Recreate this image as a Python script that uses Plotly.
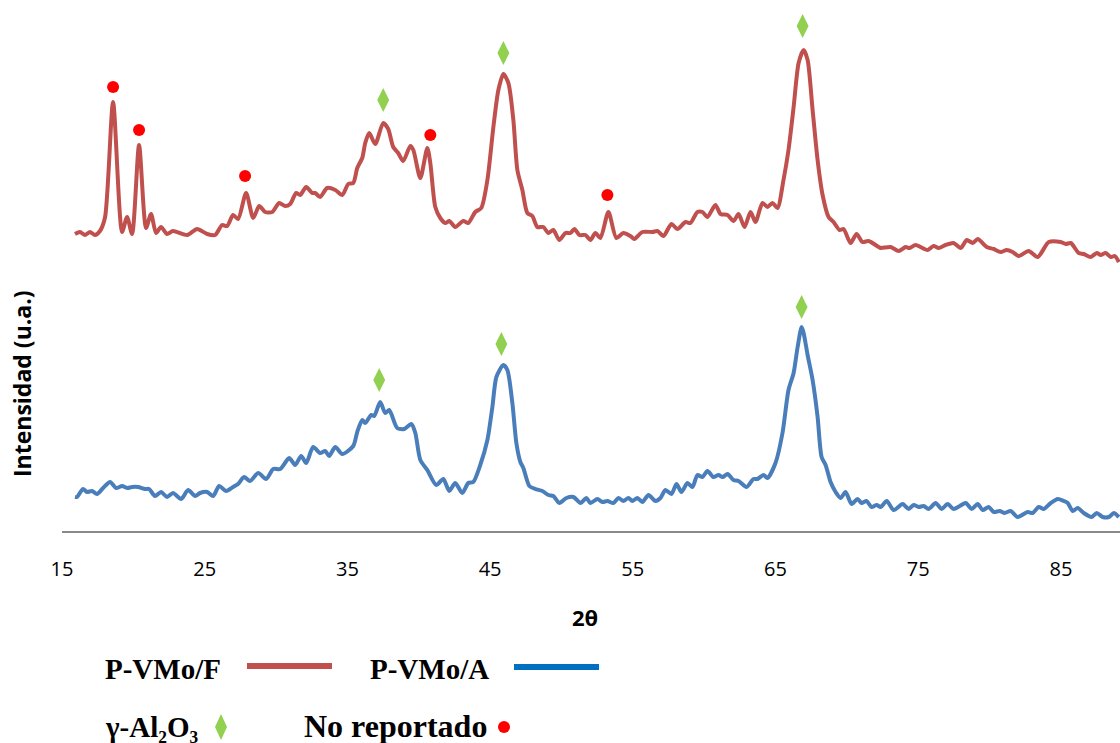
import plotly.graph_objects as go

# ---- Data (2theta in degrees, intensity in arbitrary units) ----
vmo_f_2theta = [15.91, 16.26, 16.61, 16.96, 17.31, 17.66, 18.02, 18.58, 19.21, 19.56, 19.91, 20.40,
                20.89, 21.24, 21.59, 21.94,
                22.36, 22.78, 23.77, 24.47, 25.17, 25.73, 26.22, 26.57, 26.99, 27.34, 27.90, 28.40,
                28.82, 29.24, 29.73, 30.22, 30.64, 30.99, 31.41, 31.69, 32.11, 32.53, 32.74, 33.09,
                33.58, 34.15, 34.64, 35.06, 35.41, 35.69, 36.04, 36.25, 36.53, 36.95, 37.51, 37.86,
                38.21, 38.56, 38.91, 39.41, 39.62, 40.11, 40.60, 40.81, 41.16, 41.51, 41.86, 42.14,
                42.56, 43.12, 43.47, 43.96, 44.38, 44.81, 45.23, 45.58, 45.93, 46.28, 46.63, 46.91,
                47.26, 47.61, 47.96, 48.31, 48.73, 49.08, 49.43, 49.85, 50.28, 50.63, 50.91, 51.26,
                51.68, 52.03, 52.38, 52.73, 53.29, 53.85, 54.34, 54.83, 55.11, 55.67, 56.38, 56.73,
                57.15, 57.71, 58.13, 58.69, 59.04, 59.53, 59.88, 60.23, 60.79, 61.15, 61.64, 62.06,
                62.41, 62.83, 63.25, 63.60, 64.09, 64.44, 64.79, 65.14, 65.56, 65.91, 66.27, 66.62,
                66.97, 67.25, 67.60, 67.95, 68.30, 68.72, 69.07, 69.49, 69.77, 70.26, 70.68, 71.10,
                71.52, 72.23, 72.37, 73.07, 73.63, 74.12, 74.40, 74.82, 75.66, 76.08, 76.43, 76.92,
                77.48, 77.98, 78.40, 78.82, 79.17, 79.80, 80.29, 80.78, 81.20, 81.62, 82.04, 82.74,
                83.38, 84.15, 84.99, 85.34, 85.69, 86.25, 86.60, 87.09, 87.51, 87.79, 88.14, 88.50,
                88.78, 89.06]
vmo_f_int = [297, 299, 296, 299, 296, 300, 314, 429, 299, 314, 297, 386,
             303, 317, 298, 304,
             297, 300, 296, 302, 297, 296, 306, 305, 316, 312, 338, 313,
             325, 319, 319, 328, 325, 327, 338, 336, 344, 338, 338, 334,
             343, 341, 336, 347, 348, 363, 373, 388, 398, 387, 408, 402,
             384, 378, 370, 385, 381, 353, 383, 368, 324, 313, 308, 310,
             304, 310, 308, 319, 323, 351, 404, 441, 457, 448, 411, 361,
             341, 318, 315, 304, 304, 298, 301, 291, 298, 298, 302, 296,
             296, 291, 298, 293, 319, 293, 298, 295, 292, 299, 299, 300,
             295, 307, 302, 309, 308, 319, 319, 314, 326, 317, 316, 310,
             317, 304, 319, 309, 328, 324, 328, 323, 351, 381, 424, 468,
             481, 471, 421, 371, 336, 314, 309, 301, 302, 288, 297, 289,
             290, 284, 283, 284, 280, 284, 283, 286, 281, 285, 283, 286,
             288, 283, 291, 288, 292, 284, 282, 279, 281, 279, 275, 280,
             274, 289, 289, 287, 288, 278, 277, 274, 278, 276, 278, 274,
             275, 269]

vmo_a_2theta = [15.91, 16.05, 16.47, 16.75, 17.10, 17.45, 17.88, 18.37, 18.79, 19.21, 19.56, 19.91,
                20.33, 20.82, 21.10, 21.52, 21.94, 22.36, 22.78, 23.35, 23.84, 24.33, 24.68, 25.17,
                25.59, 26.01, 26.50, 26.99, 27.34, 27.76, 28.18, 28.75, 29.31, 29.80, 30.29, 30.92,
                31.34, 31.76, 32.11, 32.60, 33.09, 33.44, 33.72, 34.15, 34.64, 35.41, 35.69, 36.04,
                36.25, 36.67, 36.88, 37.30, 37.65, 37.93, 38.49, 38.98, 39.48, 39.76, 40.11, 40.60,
                41.23, 41.72, 42.14, 42.56, 43.05, 43.47, 43.82, 44.31, 44.81, 45.16, 45.44, 45.93,
                46.21, 46.56, 46.84, 47.12, 47.33, 47.75, 48.17, 48.66, 49.08, 49.43, 49.85, 50.35,
                50.84, 51.33, 51.75, 52.03, 52.52, 52.87, 53.22, 53.64, 53.99, 54.34, 54.69, 54.97,
                55.32, 55.67, 56.10, 56.59, 56.94, 57.29, 57.71, 58.06, 58.41, 58.83, 59.18, 59.53,
                59.88, 60.23, 60.65, 61.00, 61.29, 61.64, 62.06, 62.41, 62.97, 63.46, 63.74, 64.16,
                64.44, 65.00, 65.49, 65.91, 66.27, 66.55, 66.83, 66.97, 67.25, 67.60, 67.95, 68.23,
                68.51, 68.86, 69.21, 69.56, 69.91, 70.33, 70.75, 71.03, 71.38, 71.73, 72.09, 72.37,
                72.79, 73.28, 73.91, 74.33, 74.68, 75.03, 75.38, 75.73, 76.22, 76.64, 77.06, 77.48,
                77.91, 78.33, 78.75, 79.17, 79.52, 79.94, 80.29, 80.71, 81.06, 81.48, 81.97, 82.67,
                83.02, 83.45, 83.80, 84.29, 84.78, 85.20, 85.48, 85.83, 86.18, 86.60, 87.16, 87.51,
                87.93, 88.36, 88.71, 89.06]
vmo_a_int = [34, 34, 42, 39, 40, 37, 43, 49, 43, 45, 43, 44,
             44, 42, 42, 35, 39, 34, 38, 32, 41, 35, 38, 39,
             35, 45, 40, 44, 47, 54, 50, 58, 52, 62, 62, 73,
             66, 75, 68, 84, 78, 80, 75, 84, 77, 85, 99, 111,
             108, 116, 115, 129, 118, 121, 103, 102, 107, 98, 71, 61,
             46, 52, 40, 48, 38, 48, 49, 66, 91, 124, 154, 166,
             161, 128, 88, 69, 63, 45, 42, 40, 36, 35, 28, 33,
             34, 28, 33, 28, 32, 29, 30, 28, 33, 30, 33, 30,
             33, 29, 36, 30, 33, 41, 37, 47, 39, 48, 44, 56,
             54, 60, 54, 56, 54, 57, 51, 50, 44, 52, 52, 56,
             53, 68, 98, 141, 158, 184, 204, 198, 176, 151, 114, 74,
             66, 49, 39, 33, 39, 27, 32, 28, 30, 24, 26, 24,
             30, 21, 27, 22, 26, 24, 25, 22, 28, 22, 27, 22,
             25, 28, 22, 27, 21, 24, 19, 20, 18, 20, 14, 19,
             18, 24, 22, 28, 32, 30, 28, 20, 23, 18, 14, 18,
             14, 14, 18, 14]

# Peak labels
gamma_f_2theta = [37.51, 45.93, 66.90]
gamma_f_int = [431, 478, 505]
gamma_a_2theta = [37.23, 45.79, 66.83]
gamma_a_int = [151, 187, 224]
noreport_2theta = [18.58, 20.40, 27.83, 40.81, 53.22]
noreport_int = [444, 401, 355, 396, 336]

tick_vals = [15, 25, 35, 45, 55, 65, 75, 85]
tick_text = ["15", "25", "35", "45", "55", "65", "75", "85"]

RED = "#C0504D"
BLUE = "#4A7EBB"
GREEN = "#92D050"
DOT = "#FF0000"

fig = go.Figure()
fig.add_trace(go.Scatter(x=vmo_f_2theta, y=vmo_f_int, mode="lines", name="P-VMo/F",
                         line=dict(color=RED, width=4, shape="spline", smoothing=0.7)))
fig.add_trace(go.Scatter(x=vmo_a_2theta, y=vmo_a_int, mode="lines", name="P-VMo/A",
                         line=dict(color=BLUE, width=4, shape="spline", smoothing=0.7)))
fig.add_trace(go.Scatter(x=gamma_f_2theta + gamma_a_2theta, y=gamma_f_int + gamma_a_int,
                         mode="markers", name="γ-Al₂O₃",
                         marker=dict(symbol="diamond-tall", size=17, color=GREEN)))
fig.add_trace(go.Scatter(x=noreport_2theta, y=noreport_int, mode="markers", name="No reportado",
                         marker=dict(symbol="circle", size=12, color=DOT)))

W, H = 1120, 743
L, R, T, B = 62, 0, 0, 212
pw, ph = W - L - R, H - T - B


def px(xp):
    return (xp - L) / pw


def py(yp):
    return (H - B - yp) / ph


legend_font = dict(family="Liberation Serif", size=29, color="black")
annotations = [
    dict(text="<b>P-VMo/F</b>", x=px(103), y=py(669), xref="paper", yref="paper",
         xanchor="left", yanchor="middle", showarrow=False, font=legend_font),
    dict(text="<b>P-VMo/A</b>", x=px(368), y=py(669), xref="paper", yref="paper",
         xanchor="left", yanchor="middle", showarrow=False, font=legend_font),
    dict(text="<b>γ-Al₂O₃</b>", x=px(103), y=py(727), xref="paper", yref="paper",
         xanchor="left", yanchor="middle", showarrow=False, font=legend_font),
    dict(text="<b>No reportado</b>", x=px(302), y=py(726), xref="paper", yref="paper",
         xanchor="left", yanchor="middle", showarrow=False,
         font=dict(family="Liberation Serif", size=32, color="black")),
    dict(text="<b>2θ</b>", x=px(585), y=py(617), xref="paper", yref="paper",
         xanchor="center", yanchor="middle", showarrow=False,
         font=dict(family="Open Sans", size=22, color="black")),
    dict(text="<b>Intensidad (u.a.)</b>", x=px(22), y=py(384), xref="paper", yref="paper",
         xanchor="center", yanchor="middle", showarrow=False, textangle=-90,
         font=dict(family="Open Sans", size=23, color="black")),
]

shapes = [
    dict(type="line", xref="paper", yref="paper", x0=px(247), x1=px(332), y0=py(666), y1=py(666),
         line=dict(color=RED, width=6)),
    dict(type="line", xref="paper", yref="paper", x0=px(514), x1=px(599), y0=py(667), y1=py(667),
         line=dict(color="#0070C0", width=6)),
    dict(type="path", xref="paper", yref="paper",
         path=f"M {px(221)} {py(714)} L {px(227)} {py(727)} L {px(221)} {py(740)} L {px(215)} {py(727)} Z",
         fillcolor=GREEN, line=dict(width=0)),
    dict(type="circle", xref="paper", yref="paper", x0=px(498), x1=px(510), y0=py(721), y1=py(733),
         fillcolor=DOT, line=dict(width=0)),
]

fig.update_layout(
    width=W, height=H,
    margin=dict(l=L, r=R, t=T, b=B, pad=0),
    paper_bgcolor="white", plot_bgcolor="white",
    showlegend=False,
    annotations=annotations,
    shapes=shapes,
    xaxis=dict(range=[15, 15 + pw / 14.27], tickvals=tick_vals, ticktext=tick_text,
               showline=True, linecolor="#898989", linewidth=1.5, ticks="",
               showgrid=False, zeroline=False, ticklabelstandoff=19,
               tickfont=dict(family="Open Sans", size=20, color="black")),
    yaxis=dict(range=[0, 531], visible=False, showgrid=False, zeroline=False),
)

fig.write_html("out.html")
